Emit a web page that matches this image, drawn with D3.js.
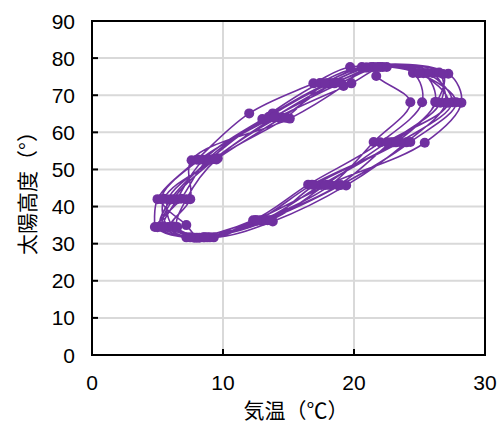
<!DOCTYPE html>
<html>
<head>
<meta charset="utf-8">
<script src="https://cdn.jsdelivr.net/npm/d3@7.9.0/dist/d3.min.js"></script>
<style>
  body { margin: 0; background: #fff; }
  svg { display: block; }
  .tick-label { font-family: "Liberation Sans", Arial, sans-serif; font-size: 21px; fill: #000; }
  .axis-title { font-family: "Noto Sans CJK JP", sans-serif; font-size: 21px; fill: #000; }
</style>
</head>
<body>
<svg id="chart" width="501" height="423"></svg>
<script>
// monthly mean temperature (°C), one row per year, Jan..Dec
const temp = [
  [4.8, 5.0, 8.0, 12.0, 16.9, 19.7, 24.5, 25.2, 22.0, 16.5, 12.3, 7.2],
  [5.2, 6.0, 9.0, 13.0, 17.4, 20.6, 25.3, 26.2, 23.0, 17.5, 13.0, 8.5],
  [5.5, 6.5, 8.5, 13.8, 18.0, 21.5, 21.7, 24.3, 21.5, 18.2, 12.8, 8.0],
  [5.8, 5.5, 9.6, 14.5, 18.6, 22.5, 26.0, 27.0, 24.0, 19.4, 13.8, 9.3],
  [6.0, 7.5, 7.6, 15.1, 19.2, 21.0, 27.2, 28.2, 25.4, 18.0, 12.5, 8.8],
  [6.2, 5.8, 9.3, 14.2, 19.8, 22.2, 25.6, 27.5, 23.5, 17.0, 13.4, 7.8],
  [5.0, 6.8, 8.8, 13.5, 18.2, 21.3, 26.5, 26.6, 22.8, 18.8, 12.9, 9.0],
  [6.5, 7.2, 9.5, 14.8, 17.8, 20.9, 24.9, 27.8, 24.3, 19.0, 13.2, 8.2],
  [7.2, 5.3, 8.2, 14.0, 19.0, 22.0, 26.8, 26.3, 23.2, 16.8, 12.6, 8.6],
  [5.4, 6.2, 9.4, 13.9, 18.5, 21.8, 25.0, 27.2, 22.5, 17.8, 13.6, 7.5]
];

// solar altitude (°) for the same months
const altitude = [
  [34.5, 42.0, 52.6, 65.1, 73.2, 77.6, 76.0, 68.1, 57.3, 45.9, 36.3, 31.7],
  [34.6, 41.9, 52.7, 63.6, 73.3, 77.6, 75.9, 68.2, 57.3, 45.8, 36.2, 31.7],
  [34.4, 42.0, 52.6, 65.1, 73.2, 77.6, 75.2, 68.1, 57.4, 45.8, 36.3, 31.6],
  [34.5, 42.1, 53.0, 64.0, 73.4, 77.6, 76.0, 68.0, 57.3, 45.7, 36.0, 31.7],
  [34.5, 42.0, 52.5, 63.7, 72.5, 77.5, 75.8, 68.0, 57.2, 45.9, 36.4, 31.7],
  [34.6, 41.9, 52.8, 64.0, 73.2, 77.6, 76.0, 68.1, 57.4, 45.8, 36.3, 31.6],
  [34.4, 42.1, 52.6, 64.2, 73.3, 77.6, 76.1, 68.0, 57.3, 45.7, 36.2, 31.7],
  [34.5, 42.0, 52.7, 63.9, 73.2, 77.5, 75.9, 68.1, 57.4, 45.8, 36.3, 31.6],
  [35.0, 42.0, 52.6, 64.4, 73.3, 77.6, 75.7, 68.1, 57.3, 45.9, 36.2, 31.7],
  [34.6, 42.0, 52.8, 64.0, 73.2, 77.6, 76.0, 68.0, 57.3, 45.8, 36.3, 31.7]
];

const xTicks = [0, 10, 20, 30];
const yTicks = [0, 10, 20, 30, 40, 50, 60, 70, 80, 90];

const svg = d3.select('#chart');
const plotLeft = 92, plotRight = 485, plotTop = 21, plotBottom = 355;

const x = d3.scaleLinear().domain([0, 30]).range([plotLeft, plotRight]);
const y = d3.scaleLinear().domain([0, 90]).range([plotBottom, plotTop]);

// grid
svg.append('g')
  .selectAll('line')
  .data(xTicks.slice(1, -1))
  .join('line')
  .attr('x1', d => x(d)).attr('x2', d => x(d))
  .attr('y1', plotTop).attr('y2', plotBottom)
  .attr('stroke', '#d9d9d9').attr('stroke-width', 2);

svg.append('g')
  .selectAll('line')
  .data(yTicks.slice(1, -1))
  .join('line')
  .attr('x1', plotLeft).attr('x2', plotRight)
  .attr('y1', d => y(d)).attr('y2', d => y(d))
  .attr('stroke', '#d9d9d9').attr('stroke-width', 2);

// inside ticks
svg.append('g')
  .selectAll('line')
  .data(yTicks)
  .join('line')
  .attr('x1', plotLeft).attr('x2', plotLeft + 6)
  .attr('y1', d => y(d)).attr('y2', d => y(d))
  .attr('stroke', '#000').attr('stroke-width', 2);

svg.append('g')
  .selectAll('line')
  .data(xTicks)
  .join('line')
  .attr('x1', d => x(d)).attr('x2', d => x(d))
  .attr('y1', plotBottom).attr('y2', plotBottom - 6)
  .attr('stroke', '#000').attr('stroke-width', 2);

// data: one continuous smoothed series
const points = [];
temp.forEach((row, i) => row.forEach((t, m) => points.push([t, altitude[i][m]])));

const line = d3.line()
  .x(d => x(d[0]))
  .y(d => y(d[1]))
  .curve(d3.curveCatmullRom.alpha(0.5));

svg.append('path')
  .datum(points)
  .attr('d', line)
  .attr('fill', 'none')
  .attr('stroke', '#7030a0')
  .attr('stroke-width', 1.6);

svg.append('g')
  .selectAll('circle')
  .data(points)
  .join('circle')
  .attr('cx', d => x(d[0]))
  .attr('cy', d => y(d[1]))
  .attr('r', 5)
  .attr('fill', '#7030a0');

// frame
svg.append('rect')
  .attr('x', plotLeft).attr('y', plotTop)
  .attr('width', plotRight - plotLeft).attr('height', plotBottom - plotTop)
  .attr('fill', 'none').attr('stroke', '#000').attr('stroke-width', 2);

// tick labels
svg.append('g')
  .selectAll('text')
  .data(yTicks)
  .join('text')
  .attr('class', 'tick-label')
  .attr('x', plotLeft - 17)
  .attr('y', d => y(d))
  .attr('dy', '0.36em')
  .attr('text-anchor', 'end')
  .text(d => d);

svg.append('g')
  .selectAll('text')
  .data(xTicks)
  .join('text')
  .attr('class', 'tick-label')
  .attr('x', d => x(d))
  .attr('y', plotBottom + 35)
  .attr('text-anchor', 'middle')
  .text(d => d);

// axis titles
svg.append('text')
  .attr('class', 'axis-title')
  .attr('x', 296)
  .attr('y', 418)
  .attr('text-anchor', 'middle')
  .text('気温（℃）');

svg.append('text')
  .attr('class', 'axis-title')
  .attr('transform', 'translate(35,188) rotate(-90)')
  .attr('text-anchor', 'middle')
  .text('太陽高度（°）');
</script>
</body>
</html>
